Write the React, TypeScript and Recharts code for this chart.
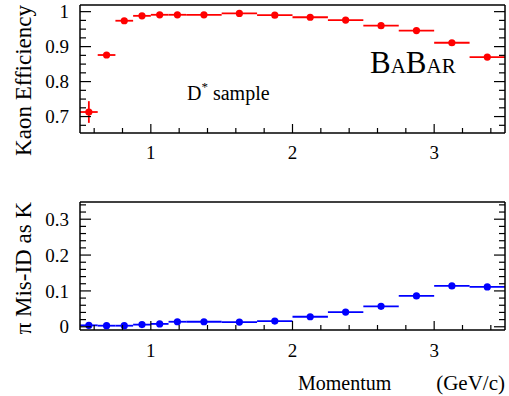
import React from "react";
import { ComposedChart, Scatter, ErrorBar, XAxis, YAxis } from "recharts";

const FONT = '"Liberation Serif", "Times New Roman", serif';

// momentum bins (GeV/c)
const binCenters = [0.5625, 0.6875, 0.8125, 0.9375, 1.0625, 1.1875, 1.375, 1.625, 1.875, 2.125, 2.375, 2.625, 2.875, 3.125, 3.375];
const binHalfWidths = [0.0625, 0.0625, 0.0625, 0.0625, 0.0625, 0.0625, 0.125, 0.125, 0.125, 0.125, 0.125, 0.125, 0.125, 0.125, 0.125];

// kaon efficiency per bin
const kaonEff = [0.713, 0.876, 0.974, 0.988, 0.991, 0.991, 0.991, 0.995, 0.99, 0.984, 0.976, 0.96, 0.946, 0.911, 0.87];
const kaonEffErr = [0.031, 0.004, 0.002, 0.002, 0.001, 0.001, 0.001, 0.001, 0.001, 0.001, 0.001, 0.002, 0.002, 0.002, 0.003];

// pion mis-identified as kaon per bin
const pionMisId = [0.004, 0.003, 0.003, 0.006, 0.008, 0.014, 0.014, 0.013, 0.016, 0.028, 0.041, 0.057, 0.086, 0.114, 0.111];
const pionMisIdErr = [0.001, 0.001, 0.001, 0.001, 0.001, 0.001, 0.001, 0.001, 0.001, 0.001, 0.001, 0.001, 0.002, 0.002, 0.002];

const xDomain = [0.5, 3.5];
const xMajorTicks = [1, 2, 3];
const xTicks = [0.6, 0.8, 1.0, 1.2, 1.4, 1.6, 1.8, 2.0, 2.2, 2.4, 2.6, 2.8, 3.0, 3.2, 3.4];

const effDomain = [0.653, 1.019];
const effMajorTicks = [0.7, 0.8, 0.9, 1];
const effTicks = [0.675, 0.7, 0.725, 0.75, 0.775, 0.8, 0.825, 0.85, 0.875, 0.9, 0.925, 0.95, 0.975, 1.0];

const misIdDomain = [-0.009, 0.348];
const misIdMajorTicks = [0, 0.1, 0.2, 0.3];
const misIdTicks = [0, 0.02, 0.04, 0.06, 0.08, 0.1, 0.12, 0.14, 0.16, 0.18, 0.2, 0.22, 0.24, 0.26, 0.28, 0.3, 0.32, 0.34];

const effData = binCenters.map((x, i) => ({ x, y: kaonEff[i], ex: binHalfWidths[i], ey: kaonEffErr[i] }));
const misIdData = binCenters.map((x, i) => ({ x, y: pionMisId[i], ex: binHalfWidths[i], ey: pionMisIdErr[i] }));

const isMajor = (v: number, majors: number[]) => majors.some((m) => Math.abs(m - v) < 1e-6);
const fmt = (v: number) => String(Math.round(v * 10) / 10);

// ticks point into the frame; dir = +1 for bottom/left, -1 for top/right
const xTick = (dir: number, labels: boolean, labelDy: number) => (props: any) => {
  const { x, y, payload } = props;
  const major = isMajor(payload.value, xMajorTicks);
  const len = major ? 9 : 5;
  return (
    <g>
      <line x1={x} x2={x} y1={y} y2={y - dir * len} stroke="#000" strokeWidth={1.2} />
      {labels && major && (
        <text x={x} y={y + labelDy} textAnchor="middle" fontSize={19} fontFamily={FONT} fill="#000">
          {fmt(payload.value)}
        </text>
      )}
    </g>
  );
};

const yTick = (dir: number, majors: number[], labels: boolean) => (props: any) => {
  const { x, y, payload } = props;
  const major = isMajor(payload.value, majors);
  const len = major ? 11 : 6;
  return (
    <g>
      <line x1={x} x2={x + dir * len} y1={y} y2={y} stroke="#000" strokeWidth={1.2} />
      {labels && major && (
        <text x={x - 11} y={y} dy="0.35em" textAnchor="end" fontSize={19} fontFamily={FONT} fill="#000">
          {fmt(payload.value)}
        </text>
      )}
    </g>
  );
};

const yTitle = (title: string) => (props: any) => {
  const { viewBox } = props;
  const x = 31;
  const y = viewBox.y;
  return (
    <text x={x} y={y} transform={`rotate(-90, ${x}, ${y})`} textAnchor="end" fontSize={23} fontFamily={FONT} fill="#000">
      {title}
    </text>
  );
};

const xTitle = (props: any) => {
  const { viewBox } = props;
  const right = viewBox.x + viewBox.width;
  const y = viewBox.y + 60;
  return (
    <g fontSize={20} fontFamily={FONT} fill="#000">
      <text x={298} y={y}>Momentum</text>
      <text x={right} y={y} textAnchor="end" fontSize={21}>(GeV/c)</text>
    </g>
  );
};

const axisLine = { stroke: "#000", strokeWidth: 1.5 };

const dot = (color: string) => (props: any) => <circle cx={props.cx} cy={props.cy} r={3.6} fill={color} />;

function Panel({ data, color, height, top, bottomAxis, yDomain, yTicks, yMajors, title, children }: any) {
  return (
    <ComposedChart width={509} height={height} margin={{ top, right: 0, bottom: 0, left: 0 }}>
      <XAxis xAxisId="b" dataKey="x" type="number" domain={xDomain} ticks={xTicks} interval={0}
        allowDataOverflow height={bottomAxis.height} tickSize={0} tickMargin={0} tickLine={false}
        axisLine={axisLine} tick={xTick(1, true, bottomAxis.labelDy)} label={bottomAxis.label} />
      <XAxis xAxisId="t" orientation="top" type="number" domain={xDomain} ticks={xTicks} interval={0}
        allowDataOverflow height={1} tickSize={0} tickMargin={0} tickLine={false}
        axisLine={axisLine} tick={xTick(-1, false, 0)} />
      <YAxis yAxisId="l" dataKey="y" type="number" domain={yDomain} ticks={yTicks} interval={0}
        allowDataOverflow width={80} tickSize={0} tickMargin={0} tickLine={false}
        axisLine={axisLine} tick={yTick(1, yMajors, true)} label={{ content: yTitle(title) }} />
      <YAxis yAxisId="r" orientation="right" type="number" domain={yDomain} ticks={yTicks} interval={0}
        allowDataOverflow width={4} tickSize={0} tickMargin={0} tickLine={false}
        axisLine={axisLine} tick={yTick(-1, yMajors, false)} />
      <Scatter xAxisId="b" yAxisId="l" data={data} fill={color} shape={dot(color)} isAnimationActive={false}>
        <ErrorBar dataKey="ex" direction="x" width={0} stroke={color} strokeWidth={1.8} />
        <ErrorBar dataKey="ey" direction="y" width={0} stroke={color} strokeWidth={1.8} />
      </Scatter>
      {children}
    </ComposedChart>
  );
}

export default function App() {
  return (
    <div style={{ position: "absolute", left: 0, top: 0, width: 509, height: 396, background: "#fff" }}>
      <div style={{ position: "absolute", left: 0, top: 0 }}>
        <Panel data={effData} color="#ff0000" height={175} top={4}
          bottomAxis={{ height: 42, labelDy: 26 }}
          yDomain={effDomain} yTicks={effTicks} yMajors={effMajorTicks} title="Kaon Efficiency">
          <text x={187} y={100} fontSize={20} fontFamily={FONT} fill="#000">
            D<tspan fontSize={13} dy={-9}>*</tspan><tspan dy={9}> sample</tspan>
          </text>
          <text x={370} y={73} fontFamily={FONT} fill="#000">
            <tspan fontSize={31}>B</tspan><tspan fontSize={21}>A</tspan><tspan fontSize={31}>B</tspan><tspan fontSize={21}>AR</tspan>
          </text>
        </Panel>
      </div>
      <div style={{ position: "absolute", left: 0, top: 190 }}>
        <Panel data={misIdData} color="#0000ff" height={206} top={11}
          bottomAxis={{ height: 66, labelDy: 27, label: { content: xTitle } }}
          yDomain={misIdDomain} yTicks={misIdTicks} yMajors={misIdMajorTicks} title="π Mis-ID as K" />
      </div>
    </div>
  );
}
